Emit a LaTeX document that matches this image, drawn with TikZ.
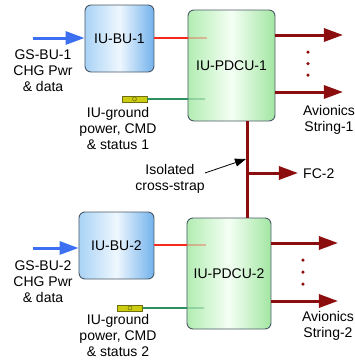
\documentclass[tikz,border=0pt]{standalone}
\usepackage{fontspec}
\setmainfont{Liberation Sans}
\usetikzlibrary{arrows.meta}
\definecolor{darkred}{HTML}{8C0D0D}
\definecolor{bluearr}{HTML}{3D6FF2}
\definecolor{redline}{HTML}{F52A1A}
\definecolor{greenline}{HTML}{2E9060}
\definecolor{boxborder}{HTML}{4A5866}
\definecolor{buleft}{HTML}{A9D3F6}
\definecolor{bumid}{HTML}{EEF7FE}
\definecolor{buright}{HTML}{72B2EC}
\definecolor{pdleft}{HTML}{B2EDB2}
\definecolor{pdmid}{HTML}{F4FFF4}
\definecolor{pdright}{HTML}{A2E6A2}
\definecolor{connfill}{HTML}{CCCC10}
\definecolor{connborder}{HTML}{6E6E10}
\begin{document}
\begin{tikzpicture}[x=1pt,y=-1pt,
  txt/.style={font=\fontsize{14}{16}\selectfont, align=center, inner sep=0pt},
  bubox/.style={draw=boxborder, line width=0.9pt, rounded corners=6pt, left color=buleft, right color=buright, middle color=bumid, txt},
  pdbox/.style={draw=boxborder, line width=0.9pt, rounded corners=6pt, left color=pdleft, right color=pdright, middle color=pdmid, txt},
  conn/.style={draw=connborder, fill=connfill, line width=0.6pt, minimum width=25pt, minimum height=6pt, inner sep=0pt},
  bluearrow/.style={bluearr, line width=3pt, -{Triangle[length=19pt,width=13pt]}},
  outarrow/.style={darkred, line width=3pt, -{Triangle[length=19pt,width=13pt]}},
  trunk/.style={darkred, line width=3pt},
  redwire/.style={redline, line width=2.5pt},
  greenwire/.style={greenline, line width=2.5pt},
  fadewire/.style={line width=2.5pt, opacity=0.3},
  dotmark/.style={circle, fill=darkred, inner sep=0pt, minimum size=3.5pt}
]
\useasboundingbox (0,0) rectangle (355,360);

% boxes
\node[bubox, minimum width=69pt, minimum height=67pt] (bu1) at (119.5,38.5) {IU-BU-1};
\node[bubox, minimum width=75pt, minimum height=67pt] (bu2) at (116.5,245.5) {IU-BU-2};
\node[pdbox, minimum width=87pt, minimum height=111pt] (pd1) at (231.5,65.5) {IU-PDCU-1};
\node[pdbox, minimum width=84pt, minimum height=111pt] (pd2) at (229,273.5) {IU-PDCU-2};

% connectors
\node[conn] (cn1) at (134.5,99) {};
\node[circle, draw=connborder, line width=0.5pt, minimum size=4pt, inner sep=0pt] (cc1) at (cn1.center) {};
\node[conn] (cn2) at (130,308) {};
\node[circle, draw=connborder, line width=0.5pt, minimum size=4pt, inner sep=0pt] (cc2) at (cn2.center) {};

% labels
\node[txt] (gs1) at (43,71) {GS-BU-1\\CHG Pwr\\\& data};
\node[txt] (gs2) at (43,282) {GS-BU-2\\CHG Pwr\\\& data};
\node[txt] (ig1) at (118,128) {IU-ground\\power, CMD\\\& status 1};
\node[txt] (ig2) at (118,335.5) {IU-ground\\power, CMD\\\& status 2};
\node[txt] (av1) at (329,120) {Avionics\\String-1};
\node[txt] (av2) at (328,326) {Avionics\\String-2};
\node[txt] (iso) at (170,178.5) {Isolated\\cross-strap};
\node[txt, anchor=west] (fc2) at (303,174) {FC-2};

% blue inputs
\coordinate (b1in) at (33,38);
\coordinate (b2in) at (33,248);
\draw[bluearrow] (b1in) -- (bu1.west |- b1in);
\draw[bluearrow] (b2in) -- (bu2.west |- b2in);

% red wires
\draw[redwire] (bu1.east |- 0,38) -- (pd1.west |- 0,38);
\draw[redwire] (bu2.east |- 0,245) -- (pd2.west |- 0,245);
\draw[fadewire, redline] (pd1.west |- 0,38) -- ++(19,0);
\draw[fadewire, redline] (pd2.west |- 0,245) -- ++(19,0);

% green wires
\draw[greenwire] (cn1.east) -- (pd1.west |- cn1.east);
\draw[greenwire] (cn2.east) -- (pd2.west |- cn2.east);
\draw[fadewire, greenline] (pd1.west |- cn1.east) -- ++(17,0);
\draw[fadewire, greenline] (pd2.west |- cn2.east) -- ++(17,0);

% outputs
\coordinate (o1a) at (343,35);
\coordinate (o1b) at (343,92);
\coordinate (o2a) at (338,243);
\coordinate (o2b) at (338,301);
\draw[outarrow] (pd1.east |- o1a) -- (o1a);
\draw[outarrow] (pd1.east |- o1b) -- (o1b);
\draw[outarrow] (pd2.east |- o2a) -- (o2a);
\draw[outarrow] (pd2.east |- o2b) -- (o2b);

% dots
\node[dotmark] (d11) at (308,52) {};
\node[dotmark] (d12) at (308,63.5) {};
\node[dotmark] (d13) at (308,75) {};
\node[dotmark] (d21) at (303,260) {};
\node[dotmark] (d22) at (303,272) {};
\node[dotmark] (d23) at (303,284) {};

% trunk and FC-2
\coordinate (tk1) at (248,0);
\coordinate (br) at (248,173);
\coordinate (fctip) at (298,173);
\draw[trunk] (pd1.south -| tk1) -- (pd2.north -| tk1);
\draw[outarrow] (br) -- (fctip);

% annotation
\coordinate (annotip) at (246,159);
\draw[black, line width=0.8pt, -{Triangle[length=11pt,width=8pt]}] (205,173) -- (annotip);
\end{tikzpicture}
\end{document}
